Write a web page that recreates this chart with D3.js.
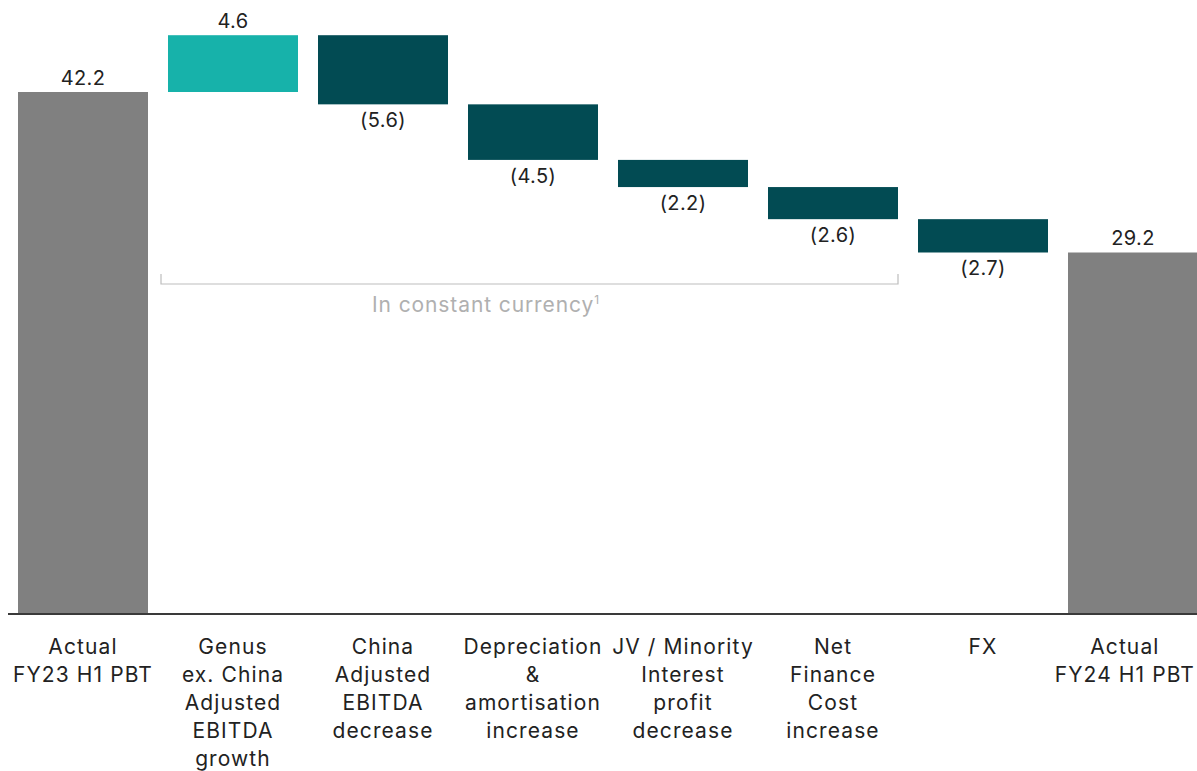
<!DOCTYPE html>
<html>
<head>
<meta charset="utf-8">
<script src="https://cdn.jsdelivr.net/npm/d3@7"></script>
<style>
  body { margin: 0; background: #fff; }
  svg { display: block; font-family: "Inter", "Open Sans", sans-serif; }
</style>
</head>
<body>
<div id="chart"></div>
<script>
// Waterfall data (GBP m)
var categories = ["Actual FY23 H1 PBT", "Genus ex. China Adjusted EBITDA growth",
  "China Adjusted EBITDA decrease", "Depreciation & amortisation increase",
  "JV / Minority Interest profit decrease", "Net Finance Cost increase", "FX",
  "Actual FY24 H1 PBT"];
var labelLines = [
  ["Actual", "FY23 H1 PBT"],
  ["Genus", "ex. China", "Adjusted", "EBITDA", "growth"],
  ["China", "Adjusted", "EBITDA", "decrease"],
  ["Depreciation", "&", "amortisation", "increase"],
  ["JV / Minority", "Interest", "profit", "decrease"],
  ["Net", "Finance", "Cost", "increase"],
  ["FX"],
  ["Actual", "FY24 H1 PBT"]
];
var values = [42.2, 4.6, -5.6, -4.5, -2.2, -2.6, -2.7, 29.2];
var kinds = ["total", "up", "down", "down", "down", "down", "down", "total"];
var valueLabels = ["42.2", "4.6", "(5.6)", "(4.5)", "(2.2)", "(2.6)", "(2.7)", "29.2"];

var colors = { total: "#808080", up: "#17b2aa", down: "#024b53" };

var width = 1197, height = 771;
var baseY = 613;

var svg = d3.select("#chart").append("svg")
    .attr("width", width)
    .attr("height", height);

var x = d3.scaleBand()
    .domain(categories)
    .range([8, 1208])
    .paddingInner(20 / 150)
    .paddingOuter(10 / 150);

var y = d3.scaleLinear()
    .domain([0, 42.2])
    .range([baseY, 92]);

// compute start / end of each step
var running = 0;
var steps = values.map(function(v, i) {
    var s;
    if (kinds[i] == "total") {
        s = { y0: 0, y1: v };
        running = v;
    } else {
        s = { y0: running, y1: running + v };
        running = running + v;
    }
    s.cat = categories[i];
    s.kind = kinds[i];
    s.label = valueLabels[i];
    s.lines = labelLines[i];
    return s;
});

// bars
svg.selectAll("rect.bar")
    .data(steps)
    .enter()
    .append("rect")
    .attr("class", "bar")
    .attr("x", function(d) { return x(d.cat); })
    .attr("width", x.bandwidth())
    .attr("y", function(d) { return y(Math.max(d.y0, d.y1)); })
    .attr("height", function(d) { return Math.abs(y(d.y0) - y(d.y1)); })
    .attr("fill", function(d) { return colors[d.kind]; });

// baseline
svg.append("line")
    .attr("x1", 8).attr("x2", width)
    .attr("y1", baseY + 1).attr("y2", baseY + 1)
    .attr("stroke", "#3a3a3a")
    .attr("stroke-width", 2);

// value labels
svg.selectAll("text.val")
    .data(steps)
    .enter()
    .append("text")
    .attr("class", "val")
    .attr("x", function(d) { return x(d.cat) + x.bandwidth() / 2; })
    .attr("y", function(d) {
        if (d.kind == "down") return y(d.y1) + 23;
        return y(d.y1) - 7;
    })
    .attr("text-anchor", "middle")
    .attr("font-size", 20)
    .attr("letter-spacing", 0.4)
    .attr("fill", "#222")
    .text(function(d) { return d.label; });

// category labels
var cat = svg.selectAll("text.cat")
    .data(steps)
    .enter()
    .append("text")
    .attr("class", "cat")
    .attr("text-anchor", "middle")
    .attr("font-size", 21)
    .attr("letter-spacing", 1.1)
    .attr("fill", "#222");

cat.selectAll("tspan")
    .data(function(d) { return d.lines.map(function(l) { return { t: l, cx: x(d.cat) + x.bandwidth() / 2 }; }); })
    .enter()
    .append("tspan")
    .attr("x", function(d) { return d.cx; })
    .attr("y", function(d, i) { return 654 + i * 28; })
    .text(function(d) { return d.t; });

// keep the last label inside the picture (it sits right on the edge)
cat.each(function() {
    var b = this.getBBox();
    var over = b.x + b.width - (width - 2);
    if (over > 0) d3.select(this).attr("transform", "translate(" + (-over) + ",0)");
});

// constant currency bracket
var bx0 = x(categories[1]) - 7;
var bx1 = x(categories[5]) + x.bandwidth();
svg.append("path")
    .attr("d", "M" + bx0 + ",274V284H" + bx1 + "V274")
    .attr("fill", "none")
    .attr("stroke", "#bdbdbd")
    .attr("stroke-width", 1.2);

var note = svg.append("text")
    .attr("x", 486)
    .attr("y", 312)
    .attr("text-anchor", "middle")
    .attr("font-size", 21)
    .attr("letter-spacing", 0.9)
    .attr("fill", "#b0b0b0")
    .text("In constant currency");
note.append("tspan")
    .attr("font-size", 12)
    .attr("dy", -8)
    .text("1");
</script>
</body>
</html>
